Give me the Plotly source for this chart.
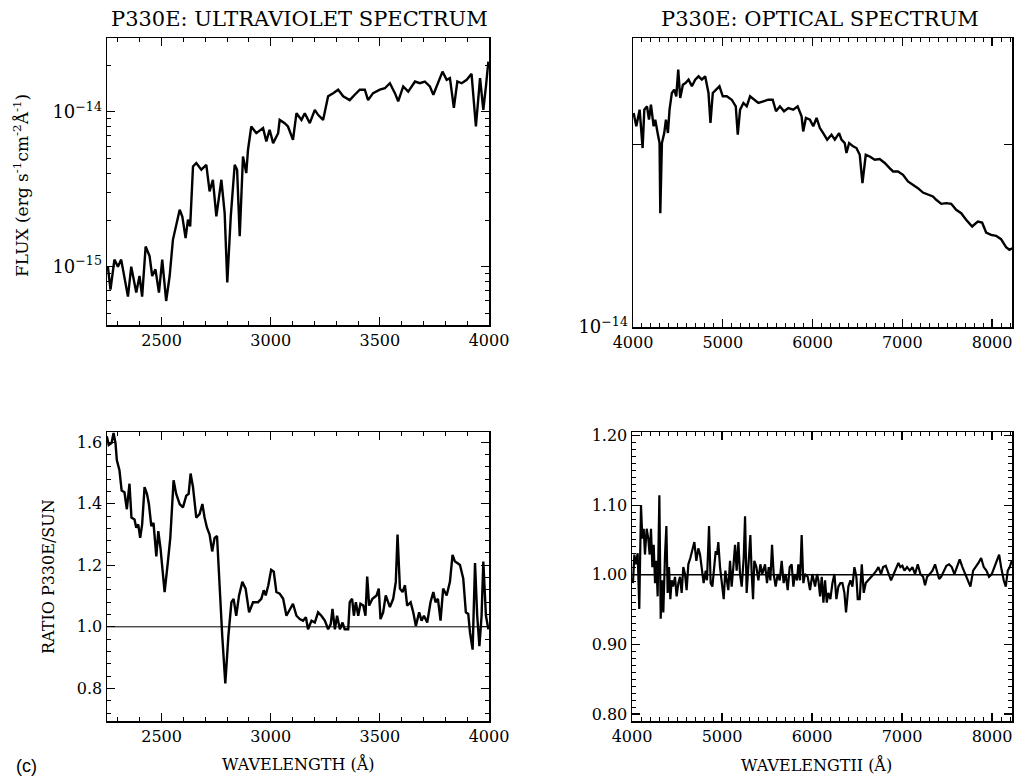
import plotly.graph_objects as go

# ---------------- data ----------------
FLUX_UV_UNIT = 1e-15
UV_WAVE = [2254, 2266, 2284, 2300, 2315, 2346, 2361, 2384, 2399, 2411, 2427, 2445, 2457, 2472, 2488, 2503,
           2521, 2537, 2552, 2567, 2583, 2595, 2610, 2621, 2631, 2644, 2659, 2682, 2705, 2720, 2735, 2751,
           2774, 2789, 2801, 2817, 2835, 2846, 2858, 2873, 2888, 2896, 2911, 2934, 2965, 2980, 2995, 3011,
           3034, 3041, 3064, 3079, 3102, 3118, 3141, 3156, 3179, 3202, 3217, 3240, 3263, 3286, 3309, 3332,
           3362, 3385, 3408, 3431, 3446, 3469, 3500, 3523, 3546, 3569, 3584, 3607, 3630, 3661, 3683, 3706,
           3729, 3745, 3768, 3787, 3806, 3821, 3839, 3855, 3875, 3898, 3920, 3940, 3959, 3974, 3986, 3997]
UV_FLUX = [1.00, 0.71, 1.11, 1.00, 1.11, 0.64, 1.00, 0.68, 0.87, 0.64,
           1.35, 1.17, 0.87, 0.96, 0.68, 1.11, 0.60, 0.87, 1.49, 1.82,
           2.33, 2.11, 1.53, 2.01, 1.82, 4.44, 4.67, 4.23, 4.55, 3.06,
           3.64, 2.11, 3.64, 2.22, 0.79, 2.11, 4.55, 4.23, 1.57, 5.15,
           4.02, 5.69, 8.04, 7.28, 7.85, 6.44, 7.66, 6.28, 7.28, 8.87,
           8.45, 8.04, 6.59, 9.80, 8.87, 9.80, 8.45, 10.3, 9.57, 8.87,
           12.6, 13.2, 13.9, 12.6, 11.9, 12.9, 13.9, 13.9, 11.9, 13.2,
           13.9, 14.2, 15.3, 13.2, 11.7, 14.6, 13.5, 15.7, 15.3, 15.7,
           14.6, 12.9, 15.7, 18.2, 16.1, 16.5, 10.6, 15.7, 15.3, 16.1,
           17.6, 8.04, 16.5, 10.3, 14.6, 21.1]

FLUX_OPT_UNIT = 1e-14
OPT_WAVE = [4007, 4037, 4074, 4107, 4126, 4156, 4178, 4200, 4230, 4248,
            4274, 4296, 4304, 4322, 4348, 4367, 4389, 4407, 4433, 4459,
            4482, 4504, 4526, 4556, 4585, 4619, 4656, 4693, 4730, 4767,
            4804, 4841, 4863, 4889, 4926, 4963, 5000, 5045, 5100, 5145,
            5167, 5193, 5230, 5267, 5304, 5348, 5396, 5452, 5507, 5556,
            5593, 5637, 5682, 5730, 5785, 5834, 5878, 5896, 5926, 5971,
            6008, 6045, 6082, 6119, 6163, 6211, 6248, 6296, 6322, 6359,
            6378, 6408, 6452, 6489, 6526, 6556, 6593, 6637, 6693, 6748,
            6804, 6859, 6897, 6952, 7008, 7063, 7119, 7174, 7230, 7285,
            7341, 7378, 7434, 7489, 7545, 7600, 7656, 7711, 7778, 7841,
            7889, 7934, 7989, 8045, 8100, 8156, 8193, 8223]
OPT_FLUX = [2.255, 2.144, 2.284, 1.974, 2.284, 2.313, 2.199, 2.328, 2.144, 2.199,
            2.090, 2.012, 1.541, 2.012, 2.090, 2.199, 2.090, 2.284, 2.434, 2.465,
            2.403, 2.659, 2.388, 2.512, 2.528, 2.560, 2.496, 2.560, 2.593, 2.560,
            2.593, 2.434, 2.171, 2.434, 2.465, 2.496, 2.403, 2.403, 2.372, 2.313,
            2.077, 2.284, 2.343, 2.313, 2.403, 2.372, 2.343, 2.358, 2.372, 2.372,
            2.270, 2.313, 2.270, 2.298, 2.284, 2.313, 2.227, 2.103, 2.213, 2.199,
            2.144, 2.213, 2.130, 2.090, 2.038, 2.077, 2.038, 2.090, 2.038, 2.012,
            1.937, 2.012, 1.987, 1.974, 1.924, 1.728, 1.924, 1.912, 1.888, 1.893,
            1.865, 1.829, 1.806, 1.806, 1.783, 1.739, 1.717, 1.695, 1.667, 1.653,
            1.642, 1.622, 1.597, 1.601, 1.597, 1.561, 1.541, 1.503, 1.465, 1.493,
            1.487, 1.432, 1.419, 1.414, 1.396, 1.354, 1.341, 1.349]

UVR_WAVE = [2249, 2258, 2271, 2280, 2289, 2295, 2307, 2317, 2330, 2341,
            2353, 2362, 2376, 2384, 2393, 2402, 2411, 2422, 2433, 2442,
            2453, 2463, 2476, 2485, 2495, 2514, 2529, 2540, 2555, 2567,
            2583, 2598, 2613, 2624, 2633, 2644, 2659, 2674, 2687, 2697,
            2708, 2720, 2732, 2743, 2754, 2763, 2778, 2792, 2806, 2820,
            2830, 2842, 2855, 2870, 2885, 2901, 2919, 2942, 2957, 2968,
            2977, 2989, 3002, 3014, 3026, 3041, 3057, 3072, 3090, 3102,
            3118, 3133, 3148, 3161, 3171, 3187, 3202, 3217, 3232, 3248,
            3263, 3275, 3283, 3294, 3304, 3317, 3329, 3339, 3355, 3362,
            3373, 3381, 3390, 3401, 3411, 3424, 3434, 3442, 3451, 3466,
            3485, 3495, 3503, 3515, 3527, 3546, 3561, 3573, 3581, 3592,
            3604, 3615, 3625, 3641, 3653, 3665, 3680, 3691, 3702, 3717,
            3732, 3745, 3755, 3766, 3778, 3790, 3806, 3821, 3833, 3844,
            3855, 3867, 3882, 3894, 3905, 3913, 3925, 3936, 3946, 3956,
            3966, 3974, 3986, 3997]
UVR_RATIO = [1.619, 1.591, 1.597, 1.630, 1.597, 1.542, 1.509, 1.443, 1.437, 1.382,
             1.465, 1.355, 1.349, 1.322, 1.333, 1.289, 1.333, 1.454, 1.432, 1.399,
             1.327, 1.338, 1.229, 1.311, 1.256, 1.113, 1.212, 1.289, 1.476, 1.432,
             1.399, 1.388, 1.426, 1.432, 1.498, 1.454, 1.355, 1.366, 1.399, 1.355,
             1.322, 1.300, 1.245, 1.289, 1.295, 1.168, 0.970, 0.816, 0.970, 1.080,
             1.091, 1.036, 1.102, 1.146, 1.124, 1.047, 1.080, 1.080, 1.091, 1.119,
             1.102, 1.135, 1.185, 1.179, 1.113, 1.108, 1.091, 1.036, 1.058, 1.075,
             1.036, 1.025, 1.020, 1.031, 0.992, 1.020, 1.014, 1.047, 1.036, 1.020,
             0.992, 1.009, 1.058, 0.992, 1.036, 0.992, 1.014, 0.992, 0.992, 1.080,
             1.091, 1.036, 1.080, 1.036, 1.075, 1.069, 1.036, 1.163, 1.069, 1.091,
             1.102, 1.124, 1.025, 1.047, 1.102, 1.064, 1.091, 1.146, 1.300, 1.124,
             1.113, 1.135, 1.069, 1.080, 1.047, 1.003, 1.047, 1.020, 1.036, 1.014,
             1.080, 1.113, 1.080, 1.091, 1.020, 1.124, 1.102, 1.146, 1.234, 1.212,
             1.207, 1.201, 1.157, 1.047, 1.042, 0.981, 0.926, 1.207, 1.036, 0.937,
             1.036, 1.212, 1.036, 0.992]

OPTR_WAVE = [4011, 4026, 4041, 4063, 4081, 4100, 4115, 4130, 4144, 4163,
             4181, 4196, 4211, 4226, 4241, 4256, 4270, 4285, 4304, 4319,
             4333, 4348, 4367, 4382, 4396, 4411, 4426, 4441, 4456, 4478,
             4496, 4515, 4533, 4552, 4570, 4589, 4607, 4626, 4648, 4670,
             4693, 4715, 4737, 4756, 4774, 4796, 4819, 4833, 4856, 4874,
             4893, 4911, 4930, 4945, 4959, 4978, 4996, 5019, 5037, 5056,
             5070, 5089, 5107, 5126, 5145, 5163, 5182, 5200, 5219, 5241,
             5256, 5274, 5293, 5315, 5330, 5345, 5359, 5382, 5404, 5426,
             5448, 5478, 5500, 5519, 5537, 5556, 5574, 5596, 5619, 5641,
             5663, 5685, 5708, 5730, 5752, 5774, 5793, 5811, 5834, 5848,
             5867, 5885, 5904, 5922, 5952, 5978, 6004, 6034, 6056,
             6071, 6090, 6108, 6127, 6145, 6164, 6182, 6204, 6227, 6249,
             6271, 6293, 6315, 6338, 6360, 6378, 6404, 6427, 6449, 6471,
             6493, 6508, 6530, 6553, 6575, 6597, 6627, 6656, 6686, 6715,
             6738, 6767, 6790, 6819, 6849, 6878, 6908, 6938, 6960, 6982,
             7004, 7027, 7056, 7086, 7116, 7145, 7175, 7204, 7234, 7256,
             7279, 7308, 7338, 7367, 7390, 7412, 7434, 7464, 7493, 7523,
             7553, 7582, 7612, 7641, 7671, 7701, 7730, 7760, 7790, 7819,
             7849, 7879, 7908, 7938, 7967, 7997, 8027, 8056, 8079, 8101,
             8130, 8153, 8175, 8197, 8219]
OPTR_RATIO = [0.988, 1.029, 1.015, 1.031, 0.951, 1.100, 1.052, 1.066, 1.029, 1.066,
              1.052, 1.029, 1.066, 1.011, 1.043, 0.988, 1.020, 0.969, 1.114, 0.937,
              0.992, 0.946, 1.029, 1.070, 0.974, 1.011, 0.965, 0.992, 0.983, 0.997,
              0.969, 0.988, 0.997, 0.974, 1.011, 1.001, 0.978, 1.015, 1.024, 1.034,
              1.047, 1.020, 1.038, 1.029, 1.006, 0.988, 1.006, 0.992, 1.070, 0.988,
              0.983, 1.011, 1.034, 1.029, 1.047, 1.011, 0.992, 0.965, 1.006, 0.992,
              0.978, 1.020, 0.983, 1.011, 1.043, 1.006, 1.047, 1.001, 0.983, 1.024,
              1.084, 0.974, 1.011, 1.057, 1.001, 0.965, 1.020, 1.011, 0.992, 1.015,
              1.001, 1.015, 0.988, 1.011, 0.992, 1.043, 1.001, 0.983, 1.001, 0.992,
              1.020, 0.988, 1.001, 0.978, 1.011, 1.015, 0.983, 1.001, 0.992, 1.015,
              0.992, 1.057, 0.988, 1.001, 0.997, 0.978, 1.001, 0.983, 1.001,
              0.992, 0.969, 0.997, 0.960, 0.992, 0.960, 0.974, 0.965, 0.988, 1.001,
              0.965, 0.983, 0.988, 0.988, 0.974, 0.946, 0.983, 0.992, 0.983, 1.011,
              0.997, 0.965, 0.965, 1.015, 0.974, 0.988, 0.992, 0.997, 1.001, 1.006,
              1.011, 1.001, 1.011, 1.013, 1.001, 0.992, 1.001, 1.011, 1.017, 1.011,
              1.013, 1.006, 1.011, 1.006, 1.011, 1.001, 1.015, 1.001, 0.997, 0.985,
              0.997, 1.001, 1.006, 1.015, 1.006, 0.994, 0.997, 1.006, 1.013, 1.015,
              1.011, 1.001, 1.011, 1.022, 1.011, 1.001, 0.992, 0.983, 1.006, 1.011,
              1.017, 1.024, 1.011, 1.006, 0.997, 1.001, 1.011, 1.020, 1.029, 1.011,
              0.992, 0.983, 1.006, 1.011, 1.020]

UV_TICKS = [2500, 3000, 3500, 4000]
OPT_TICKS = [4000, 5000, 6000, 7000, 8000]

# ---------------- figure ----------------
SERIF = "DejaVu Serif"
W, H = 1014, 776
LINE = dict(color="black", width=2.4)

fig = go.Figure()
fig.add_trace(go.Scatter(x=UV_WAVE, y=[v * FLUX_UV_UNIT for v in UV_FLUX], mode="lines",
                         line=LINE, xaxis="x", yaxis="y", showlegend=False))
fig.add_trace(go.Scatter(x=OPT_WAVE, y=[v * FLUX_OPT_UNIT for v in OPT_FLUX], mode="lines",
                         line=LINE, xaxis="x2", yaxis="y2", showlegend=False))
fig.add_trace(go.Scatter(x=UVR_WAVE, y=UVR_RATIO, mode="lines",
                         line=LINE, xaxis="x3", yaxis="y3", showlegend=False))
fig.add_trace(go.Scatter(x=OPTR_WAVE, y=OPTR_RATIO, mode="lines",
                         line=dict(color="black", width=2.2), xaxis="x4", yaxis="y4", showlegend=False))

fig.add_shape(type="line", xref="x3", yref="y3", x0=2250, x1=4000, y0=1.0, y1=1.0,
              line=dict(color="black", width=1))
fig.add_shape(type="line", xref="x4", yref="y4", x0=4000, x1=8222, y0=1.0, y1=1.0,
              line=dict(color="black", width=1.3))


def px_x(a, b):
    return [a / W, b / W]


def px_y(top, bottom):
    return [1 - bottom / H, 1 - top / H]


def minor(**kw):
    d = dict(ticks="inside", ticklen=4, tickwidth=1, tickcolor="black")
    d.update(kw)
    return d


def base_axis(**kw):
    d = dict(showline=True, linecolor="black", linewidth=1.5, mirror="allticks",
             ticks="inside", ticklen=8, tickwidth=1.2, tickcolor="black",
             showgrid=False, zeroline=False, automargin=False,
             tickfont=dict(family=SERIF, size=16, color="black"))
    d.update(kw)
    return d


def sup(e):
    return "10<sup>\u2212%d</sup>" % e


LOGFONT = dict(family=SERIF, size=18, color="black")

layout_axes = dict(
    xaxis=base_axis(domain=px_x(107, 489), anchor="y", range=[2250, 4000],
                    tickmode="array", tickvals=UV_TICKS, ticktext=[str(v) for v in UV_TICKS],
                    minor=minor(dtick=100, tick0=0)),
    yaxis=base_axis(domain=px_y(38, 325), anchor="x", type="log", range=[-15.377, -13.523],
                    tickmode="array", tickvals=[1e-15, 1e-14], ticktext=[sup(15), sup(14)],
                    tickfont=LOGFONT,
                    minor=minor(tickmode="array",
                                tickvals=[5e-16, 6e-16, 7e-16, 8e-16, 9e-16,
                                          2e-15, 3e-15, 4e-15, 5e-15, 6e-15, 7e-15, 8e-15, 9e-15,
                                          2e-14, 3e-14])),
    xaxis2=base_axis(domain=px_x(633, 1012), anchor="y2", range=[4000, 8222],
                     tickmode="array", tickvals=OPT_TICKS, ticktext=[str(v) for v in OPT_TICKS],
                     minor=minor(dtick=100, tick0=0)),
    yaxis2=base_axis(domain=px_y(38, 327), anchor="x2", type="log", range=[-14.0, -13.523],
                     tickmode="array", tickvals=[1e-14], ticktext=[sup(14)],
                     tickfont=LOGFONT,
                     minor=minor(tickmode="array", tickvals=[2e-14], ticklen=8, tickwidth=1.2)),
    xaxis3=base_axis(domain=px_x(107, 489), anchor="y3", range=[2250, 4000],
                     tickmode="array", tickvals=UV_TICKS, ticktext=[str(v) for v in UV_TICKS],
                     minor=minor(dtick=100, tick0=0)),
    yaxis3=base_axis(domain=px_y(432, 721), anchor="x3", range=[0.694, 1.633],
                     dtick=0.2, tick0=0, tickformat=".1f",
                     minor=minor(dtick=0.04, tick0=0)),
    xaxis4=base_axis(domain=px_x(632, 1012), anchor="y4", range=[4000, 8222],
                     tickmode="array", tickvals=OPT_TICKS, ticktext=[str(v) for v in OPT_TICKS],
                     minor=minor(dtick=100, tick0=0)),
    yaxis4=base_axis(domain=px_y(432, 721), anchor="x4", range=[0.79, 1.205],
                     dtick=0.1, tick0=0, tickformat=".2f",
                     minor=minor(dtick=0.01, tick0=0)),
)


def ann(text, x, y, size=16, angle=0, family=SERIF):
    return dict(text=text, x=x / W, y=1 - y / H, xref="paper", yref="paper", showarrow=False,
                textangle=angle, font=dict(family=family, size=size, color="black"),
                xanchor="center", yanchor="middle")


annotations = [
    ann("P330E: ULTRAVIOLET SPECTRUM", 299, 19, size=21),
    ann("P330E: OPTICAL SPECTRUM", 820, 19, size=21),
    ann("FLUX (erg s<sup>-1</sup>cm<sup>-2</sup>Å<sup>-1</sup>)", 21, 186, size=17, angle=-90),
    ann("RATIO P330E/SUN", 48, 577, size=16, angle=-90),
    ann("WAVELENGTH (Å)", 298, 764, size=16),
    ann("WAVELENGTII (Å)", 816, 765, size=16),
    ann("(c)", 26, 766, size=18, family="Liberation Sans"),
]

fig.update_layout(width=W, height=H, margin=dict(l=0, r=0, t=0, b=0, autoexpand=False),
                  paper_bgcolor="white", plot_bgcolor="white", hovermode=False,
                  annotations=annotations, **layout_axes)

fig.write_html("out.html", config={"displayModeBar": False, "staticPlot": True},
               post_script="document.body.style.margin='0px';document.body.style.padding='0px';"
                           "document.body.style.overflow='hidden';")
